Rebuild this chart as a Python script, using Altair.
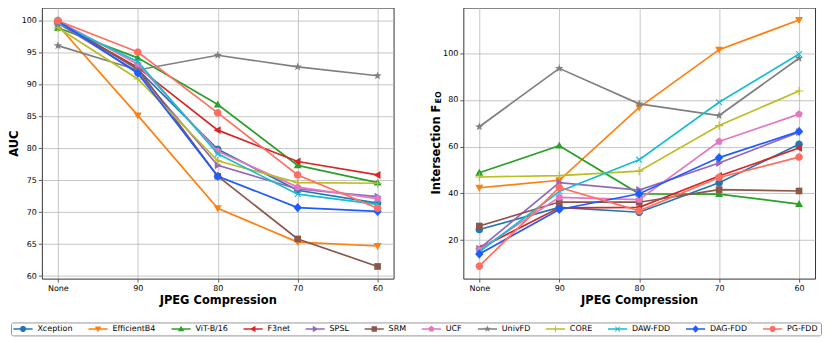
import math
import altair as alt
import pandas as pd

methods = ["Xception", "EfficientB4", "ViT-B/16", "F3net", "SPSL", "SRM",
           "UCF", "UnivFD", "CORE", "DAW-FDD", "DAG-FDD", "PG-FDD"]
levels = ["None", "90", "80", "70", "60"]
colors = ["#1f77b4", "#ff7f0e", "#2ca02c", "#d62728", "#9467bd", "#8c564b",
          "#e377c2", "#7f7f7f", "#bcbd22", "#17becf", "#1f5cff", "#ff6f61"]
markers = ["o", "v", "^", "<", ">", "s", "p", "*", "+", "x", "D", "o"]

# AUC (left panel)
auc_xception = [99.9, 92.3, 79.8, 73.4, 71.4]
auc_efficientb4 = [99.2, 85.1, 70.6, 65.3, 64.7]
auc_vit = [98.8, 94.1, 86.8, 77.3, 74.6]
auc_f3net = [99.6, 92.6, 82.8, 77.9, 75.8]
auc_spsl = [99.5, 91.9, 77.3, 73.6, 72.4]
auc_srm = [99.7, 92.4, 75.6, 65.8, 61.5]
auc_ucf = [99.9, 93.1, 79.5, 73.9, 72.1]
auc_univfd = [96.0, 92.2, 94.5, 92.7, 91.3]
auc_core = [98.8, 90.8, 78.0, 74.6, 74.5]
auc_dawfdd = [99.6, 93.5, 79.1, 72.8, 71.2]
auc_dagfdd = [99.9, 91.7, 75.6, 70.7, 70.1]
auc_pgfdd = [99.9, 95.0, 85.5, 75.8, 70.6]

# Intersection F_EO (right panel)
feo_xception = [24.5, 34.0, 31.9, 44.5, 61.0]
feo_efficientb4 = [42.4, 45.6, 76.8, 101.5, 114.2]
feo_vit = [48.8, 60.4, 39.8, 39.7, 35.4]
feo_f3net = [16.5, 33.8, 34.0, 47.4, 59.4]
feo_spsl = [16.3, 44.6, 41.4, 53.0, 66.2]
feo_srm = [26.0, 36.3, 36.2, 41.6, 41.0]
feo_ucf = [15.8, 38.3, 37.3, 62.2, 73.9]
feo_univfd = [68.5, 93.5, 78.3, 73.3, 97.8]
feo_core = [47.0, 47.6, 49.5, 69.0, 83.8]
feo_dawfdd = [15.0, 40.8, 54.4, 79.0, 99.6]
feo_dagfdd = [14.0, 33.1, 39.8, 55.3, 66.5]
feo_pgfdd = [8.8, 42.5, 32.5, 46.8, 55.5]

auc_series = [auc_xception, auc_efficientb4, auc_vit, auc_f3net, auc_spsl, auc_srm,
              auc_ucf, auc_univfd, auc_core, auc_dawfdd, auc_dagfdd, auc_pgfdd]
feo_series = [feo_xception, feo_efficientb4, feo_vit, feo_f3net, feo_spsl, feo_srm,
              feo_ucf, feo_univfd, feo_core, feo_dawfdd, feo_dagfdd, feo_pgfdd]

df_auc = pd.DataFrame([
    {"method": m, "level": lv, "auc": v}
    for m, vals in zip(methods, auc_series) for lv, v in zip(levels, vals)
])
df_feo = pd.DataFrame([
    {"method": m, "level": lv, "feo": v}
    for m, vals in zip(methods, feo_series) for lv, v in zip(levels, vals)
])


# ---- marker geometry (unit square, y down) ----
def _area(pts):
    s = 0.0
    for i in range(len(pts)):
        x1, y1 = pts[i]
        x2, y2 = pts[(i + 1) % len(pts)]
        s += x1 * y2 - x2 * y1
    return s


def _ring(pts, scale=1.0, cx=0.0, cy=0.0):
    pts = [(cx + x * scale, cy + y * scale) for x, y in pts]
    if _area(pts) < 0:
        pts = pts[::-1]
    return "M" + "L".join(f"{x:.3f},{y:.3f}" for x, y in pts) + "Z"


def _regular(n, r, start=-90.0):
    return [(r * math.cos(math.radians(start + 360.0 * k / n)),
             r * math.sin(math.radians(start + 360.0 * k / n))) for k in range(n)]


def _rot(pts, deg):
    c, s = math.cos(math.radians(deg)), math.sin(math.radians(deg))
    return [(x * c - y * s, x * s + y * c) for x, y in pts]


def marker_rings(m):
    if m == "o":
        return [_regular(28, 0.9, 0)]
    if m == "v":
        return [[(-0.95, -0.7), (0.95, -0.7), (0, 0.95)]]
    if m == "^":
        return [[(-0.95, 0.7), (0.95, 0.7), (0, -0.95)]]
    if m == "<":
        return [[(0.7, -0.95), (0.7, 0.95), (-0.95, 0)]]
    if m == ">":
        return [[(-0.7, -0.95), (-0.7, 0.95), (0.95, 0)]]
    if m == "s":
        return [[(-0.8, -0.8), (0.8, -0.8), (0.8, 0.8), (-0.8, 0.8)]]
    if m == "p":
        return [_regular(5, 0.95)]
    if m == "*":
        pts = []
        for k in range(10):
            r = 1.05 if k % 2 == 0 else 0.42
            a = math.radians(-90 + 36 * k)
            pts.append((r * math.cos(a), r * math.sin(a)))
        return [pts]
    if m in ("+", "x"):
        w = 0.13
        h = [(-1, -w), (1, -w), (1, w), (-1, w)]
        v = [(-w, -1), (w, -1), (w, 1), (-w, 1)]
        if m == "x":
            h, v = _rot(h, 45), _rot(v, 45)
        return [h, v]
    if m == "D":
        return [[(0, -1.1), (1.0, 0), (0, 1.1), (-1.0, 0)]]
    return [_regular(28, 0.9, 0)]


plot_paths = ["".join(_ring(r) for r in marker_rings(m)) for m in markers]
legend_paths = [
    _ring([(-1, -0.2), (3.8, -0.2), (3.8, 0.2), (-1, 0.2)])
    + "".join(_ring(r, scale=0.85, cx=1.4) for r in marker_rings(m))
    for m in markers
]

FONT = "DejaVu Sans"

legend = alt.Legend(
    orient="none", legendX=-31, legendY=316, direction="horizontal", columns=12,
    title=None, labelFont=FONT, labelFontSize=8, labelColor="black",
    symbolSize=64, symbolStrokeWidth=0, labelOffset=16, columnPadding=15.3,
    rowPadding=0, padding=2.5, strokeColor="#999999", fillColor="white",
    cornerRadius=2, symbolOpacity=1,
)

cscale = alt.Scale(domain=methods, range=colors)
sscale = alt.Scale(domain=methods, range=legend_paths)

x_enc = alt.X("level:N", sort=levels,
              scale=alt.Scale(type="point", padding=0.2),
              axis=alt.Axis(title="JPEG Compression", labelAngle=0, grid=True,
                            titlePadding=2))


def panel(df, field, domain, ticks, title, title_x, title_y=None, with_legend=False):
    axis_kwargs = dict(title=title, values=ticks, grid=True, titleX=title_x)
    if title_y is not None:
        axis_kwargs["titleY"] = title_y
    y_enc = alt.Y(f"{field}:Q", scale=alt.Scale(domain=domain, nice=False, zero=False),
                  axis=alt.Axis(**axis_kwargs))
    layers = []
    for m, col, path in zip(methods, colors, plot_paths):
        base = alt.Chart(df).transform_filter(alt.datum.method == m)
        layers.append(base.mark_line(strokeWidth=1.7, color=col).encode(x=x_enc, y=y_enc))
        layers.append(base.mark_point(filled=True, opacity=1, size=70, strokeWidth=0,
                                      shape=path, color=col).encode(x=x_enc, y=y_enc))
    if with_legend:
        carrier = alt.Chart(df).mark_point(filled=True, opacity=1, size=0, strokeWidth=0).encode(
            x=x_enc, y=y_enc,
            color=alt.Color("method:N", scale=cscale, legend=legend),
            shape=alt.Shape("method:N", scale=sscale, legend=legend))
        layers.append(carrier)
    return layers


left_layers = panel(df_auc, "auc", [59.6, 101.95], [60, 65, 70, 75, 80, 85, 90, 95, 100],
                    "AUC", -22, with_legend=True)
right_layers = panel(df_feo, "feo", [3.5, 119.5], [20, 40, 60, 80, 100],
                     "Intersection F", -21.5, 142)

sub = alt.Chart(pd.DataFrame({"t": ["EO"]})).mark_text(
    angle=270, fontSize=8, fontWeight="bold", font=FONT, align="center",
    baseline="alphabetic", color="black"
).encode(text="t:N", x=alt.value(-22), y=alt.value(90))

left = alt.layer(*left_layers).properties(width=353, height=272)
right = alt.layer(*right_layers, sub).properties(width=353, height=272)

chart = alt.hconcat(left, right, spacing=70, bounds="flush").resolve_scale(
    y="independent"
).properties(
    padding={"left": 0, "top": -2, "right": 0, "bottom": 0}
).configure_view(
    stroke="#333333", strokeWidth=1
).configure_axis(
    labelFont=FONT, labelFontSize=8, labelColor="black",
    titleFont=FONT, titleFontSize=11.5, titleFontWeight="bold", titleColor="black",
    tickColor="#333333", tickSize=3.5, tickWidth=0.8,
    gridColor="#b0b0b0", gridWidth=0.8, gridOpacity=0.9,
    domain=False, labelPadding=2,
)

chart.save("out.html", embed_options={"renderer": "svg", "actions": False})
